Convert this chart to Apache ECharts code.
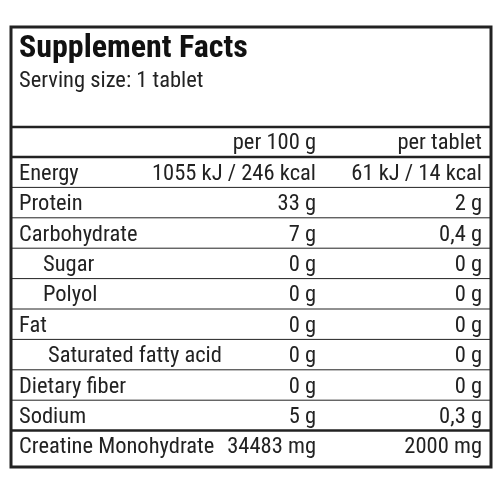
<!DOCTYPE html>
<html><head><meta charset="utf-8">
<script src="https://cdn.jsdelivr.net/npm/echarts@6/dist/echarts.min.js"></script>
<style>html,body{margin:0;padding:0;background:#fff}#c{width:500px;height:500px}</style>
</head><body><div id="c"></div>
<script>
const title = "Supplement Facts";
const serving = "Serving size: 1 tablet";
const headers = ["per 100 g", "per tablet"];
const nutrients = ["Energy","Protein","Carbohydrate","Sugar","Polyol","Fat","Saturated fatty acid","Dietary fiber","Sodium","Creatine Monohydrate"];
const indents = [0,0,0,1,1,0,2,0,0,0];
const per100 = ["1055 kJ / 246 kcal","33 g","7 g","0 g","0 g","0 g","0 g","0 g","5 g","34483 mg"];
const perTablet = ["61 kJ / 14 kcal","2 g","0,4 g","0 g","0 g","0 g","0 g","0 g","0,3 g","2000 mg"];

const FONT = '"Liberation Sans Narrow","Roboto Condensed","Arial Narrow",Roboto,sans-serif';
const C = '#222';
const FS = '22.5px ';
const chart = echarts.init(document.getElementById('c'));
const L = 11, R = 491, T = 27, B = 467;
const g = [];
g.push({type:'rect',shape:{x:L,y:T,width:R-L,height:B-T},style:{fill:'none',stroke:C,lineWidth:3}});
g.push({type:'text',x:19,y:49,style:{text:title,font:'bold 32px '+FONT,fill:'#111',verticalAlign:'middle'}});
g.push({type:'text',x:19,y:81,style:{text:serving,font:FS+FONT,fill:C,verticalAlign:'middle'}});
function hline(y,w){g.push({type:'line',shape:{x1:L,y1:y,x2:R,y2:y},style:{stroke:C,lineWidth:w}});}
hline(127,2.5); hline(157,2.5);
g.push({type:'text',x:316,y:143,style:{text:headers[0],font:FS+FONT,fill:C,align:'right',verticalAlign:'middle'}});
g.push({type:'text',x:482,y:143,style:{text:headers[1],font:FS+FONT,fill:C,align:'right',verticalAlign:'middle'}});
const rowH = 30.4, y0 = 157;
const indentX = [19,43,48];
nutrients.forEach((n,i)=>{
  const yc = y0 + rowH*(i+0.5) + 2;
  g.push({type:'text',x:indentX[indents[i]],y:yc,style:{text:n,font:FS+FONT,fill:C,verticalAlign:'middle'}});
  g.push({type:'text',x:316,y:yc,style:{text:per100[i],font:FS+FONT,fill:C,align:'right',verticalAlign:'middle'}});
  g.push({type:'text',x:482,y:yc,style:{text:perTablet[i],font:FS+FONT,fill:C,align:'right',verticalAlign:'middle'}});
  if(i>0) hline(y0+rowH*i, i===nutrients.length-1?2.5:1);
});
chart.setOption({backgroundColor:'#fff',graphic:g});
</script></body></html>
